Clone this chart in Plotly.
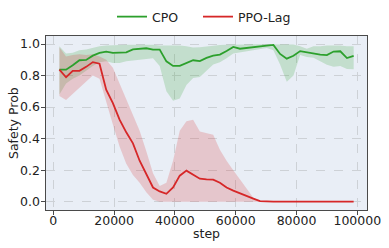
import plotly.graph_objects as go

steps = [2000, 4200, 6400, 8600, 10800, 13000, 15200, 17400, 19600, 21800,
         24000, 26200, 28400, 30600, 32800, 35000, 37200, 39400, 41600, 43800,
         46000, 48200, 50400, 52600, 54800, 57000, 59200, 61400, 63600, 65800,
         68000, 70200, 72400, 74600, 76800, 79000, 81200, 83400, 85600, 87800,
         90000, 92200, 94400, 96600, 98800]

cpo_mean = [0.837, 0.837, 0.865, 0.897, 0.899, 0.926, 0.943, 0.951, 0.944, 0.945,
            0.947, 0.966, 0.970, 0.973, 0.964, 0.964, 0.89, 0.861, 0.861, 0.88,
            0.897, 0.892, 0.912, 0.926, 0.933, 0.955, 0.981, 0.970, 0.976, 0.982,
            0.987, 0.990, 0.994, 0.937, 0.907, 0.925, 0.955, 0.948, 0.937, 0.932,
            0.930, 0.952, 0.954, 0.911, 0.924]
cpo_lower = [0.68, 0.75, 0.78, 0.80, 0.83, 0.86, 0.885, 0.89, 0.88, 0.88,
             0.89, 0.895, 0.90, 0.905, 0.91, 0.86, 0.70, 0.64, 0.655, 0.74,
             0.785, 0.79, 0.83, 0.87, 0.885, 0.91, 0.94, 0.948, 0.953, 0.96,
             0.968, 0.975, 0.96, 0.87, 0.76, 0.80, 0.93, 0.918, 0.912, 0.89,
             0.868, 0.855, 0.86, 0.842, 0.84]
cpo_upper = [0.985, 0.94, 0.945, 0.96, 0.965, 0.975, 0.985, 0.99, 0.993, 0.995,
             0.995, 0.995, 0.995, 0.995, 0.995, 0.99, 0.99, 0.99, 0.99, 0.985,
             0.978, 0.98, 0.985, 0.99, 0.993, 0.995, 0.997, 0.997, 0.997, 0.998,
             0.998, 0.999, 1.0, 0.999, 0.998, 0.997, 0.985, 0.97, 0.985, 0.985,
             0.99, 0.99, 0.99, 0.985, 0.985]

ppo_mean = [0.837, 0.789, 0.83, 0.83, 0.855, 0.885, 0.875, 0.71, 0.625, 0.52,
            0.44, 0.37, 0.26, 0.17, 0.09, 0.065, 0.05, 0.09, 0.165, 0.197,
            0.17, 0.146, 0.142, 0.14, 0.12, 0.09, 0.07, 0.052, 0.037, 0.02,
            0.004, 0.0, 0.0, 0.0, 0.0, 0.0, 0.0, 0.0, 0.0, 0.0,
            0.0, 0.0, 0.0, 0.0, 0.0]
ppo_lower = [0.67, 0.645, 0.68, 0.72, 0.76, 0.80, 0.78, 0.64, 0.49, 0.35,
             0.24, 0.17, 0.12, 0.06, 0.012, 0.0, 0.0, 0.0, 0.0, 0.0,
             0.0, 0.0, 0.0, 0.0, 0.0, 0.0, 0.0, 0.0, 0.0, 0.0,
             0.0, 0.0, 0.0, 0.0, 0.0, 0.0, 0.0, 0.0, 0.0, 0.0,
             0.0, 0.0, 0.0, 0.0, 0.0]
ppo_upper = [0.98, 0.92, 0.93, 0.935, 0.93, 0.935, 0.92, 0.90, 0.85, 0.755,
             0.65, 0.55, 0.45, 0.32, 0.18, 0.10, 0.12, 0.26, 0.45, 0.51,
             0.52, 0.445, 0.435, 0.425, 0.33, 0.26, 0.20, 0.14, 0.078, 0.025,
             0.0, 0.0, 0.0, 0.0, 0.0, 0.0, 0.0, 0.0, 0.0, 0.0,
             0.0, 0.0, 0.0, 0.0, 0.0]

series_names = ["CPO", "PPO-Lag"]
x_ticks = [0, 20000, 40000, 60000, 80000, 100000]
y_ticks = [0.0, 0.2, 0.4, 0.6, 0.8, 1.0]
x_title = "step"
y_title = "Safety Prob"

GREEN = "#2ca02c"
RED = "#d62728"
FONT = "DejaVu Sans"
FS = 12.5
TXT = "#222222"

fig = go.Figure()

def band(lower, upper, color):
    return go.Scatter(
        x=steps + steps[::-1], y=upper + lower[::-1],
        fill="toself", fillcolor=color, line=dict(width=0),
        mode="lines", showlegend=False, hoverinfo="skip")

fig.add_trace(band(cpo_lower, cpo_upper, "rgba(44,160,44,0.2)"))
fig.add_trace(band(ppo_lower, ppo_upper, "rgba(214,39,40,0.2)"))
fig.add_trace(go.Scatter(x=steps, y=cpo_mean, mode="lines", name=series_names[0],
                         legendwidth=41,
                         line=dict(color=GREEN, width=1.8)))
fig.add_trace(go.Scatter(x=steps, y=ppo_mean, mode="lines", name=series_names[1],
                         legendwidth=58,
                         line=dict(color=RED, width=1.8)))

axis_common = dict(
    showline=True, mirror=True, linecolor="#4a4a4a", linewidth=1.3,
    showgrid=True, gridcolor="#cdd1d6", griddash="dash", gridwidth=0.8,
    ticks="outside", ticklen=3.5, tickcolor="#4a4a4a",
    tickfont=dict(family=FONT, size=FS, color=TXT),
    zeroline=False, automargin=False,
)

fig.update_layout(
    width=389, height=248,
    margin=dict(l=46, r=22, t=36, b=38),
    paper_bgcolor="white", plot_bgcolor="#E9EEF6",
    font=dict(family=FONT, size=FS, color=TXT),
    legend=dict(orientation="h", x=0.5, xanchor="center",
                yref="container", y=1 - 17 / 248, yanchor="middle",
                font=dict(family=FONT, size=FS, color=TXT),
                bgcolor="rgba(0,0,0,0)", itemwidth=30, tracegroupgap=0),
    xaxis=dict(axis_common, range=[-2400, 103190], tickvals=x_ticks,
               tickformat="d", ticklabelstandoff=-5),
    yaxis=dict(axis_common, range=[-0.0526, 1.0507], tickvals=y_ticks,
               tickformat=".1f", ticklabelstandoff=-1),
    annotations=[
        dict(text=x_title, xref="paper", yref="paper", x=0.5, y=-23 / 174,
             xanchor="center", yanchor="middle", showarrow=False,
             font=dict(family=FONT, size=FS, color=TXT)),
        dict(text=y_title, xref="paper", yref="paper", x=-33 / 321, y=0.5,
             xanchor="center", yanchor="middle", showarrow=False, textangle=-90,
             font=dict(family=FONT, size=FS, color=TXT)),
    ],
)

fig.write_html("out.html",
               config={"displayModeBar": False},
               post_script="document.body.style.margin='0';document.body.style.overflow='hidden';")
